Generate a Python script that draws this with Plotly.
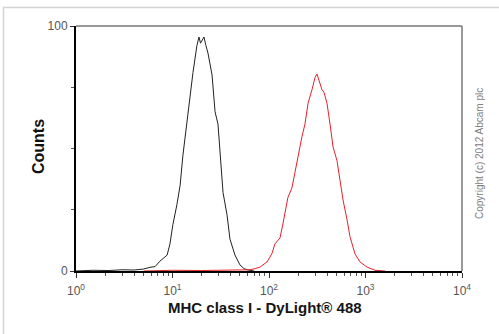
import plotly.graph_objects as go

# Data (fluorescence intensity vs. counts)
black_x = [1.0, 1.5, 2.2, 3.0, 4.0, 5.0, 5.85, 6.6, 7.4, 8.0, 8.8, 9.4, 10.1, 11.1, 12.0, 12.8,
           14.1, 15.2, 16.3, 17.9, 18.8, 19.5, 20.2, 21.2, 22.2, 23.3, 25.7, 27.6, 29.6, 31.1,
           33.4, 36.7, 39.4, 44.4, 50.0, 55.0, 59.2, 70.0]
black_y = [0, 0.3, 0.2, 0.5, 0.4, 0.8, 1.5, 1.8, 4, 5, 6.5, 11, 19, 27, 35, 47,
           61, 71, 81, 92, 95.5, 93, 94, 95.5, 92, 89, 80, 65, 60, 49,
           32, 23, 13, 6.5, 2.5, 1, 0.5, 0]

red_x = [5, 10, 20, 40, 55, 63.6, 72, 80.7, 95.3, 107, 115, 130, 140, 157, 173, 195, 220, 236,
         254, 279, 300, 314, 330, 354, 371, 399, 429, 461, 507, 544, 585, 643, 691, 778, 877,
         1037, 1254, 1600]
red_y = [0, 0.3, 0.2, 0.4, 0.3, 0.5, 1, 1.6, 3.7, 7, 11, 13.5, 19.6, 30, 34, 45, 55, 60,
         68.5, 74, 79, 80.4, 78, 74, 73, 68.5, 60, 50.6, 45, 36, 29, 21, 14, 7, 3.7,
         1.6, 0.3, 0]

x_tickvals = [1, 10, 100, 1000, 10000]
x_ticktext = ["10<sup>0</sup>", "10<sup>1</sup>", "10<sup>2</sup>", "10<sup>3</sup>", "10<sup>4</sup>"]
x_minor = [m * d for d in [1, 10, 100, 1000] for m in range(2, 10)]
y_tickvals = [0, 100]
y_minor = [25, 50, 75]

FONT = "Liberation Sans, Arial, sans-serif"

fig = go.Figure()
fig.add_trace(go.Scatter(x=black_x, y=black_y, mode="lines",
                         line=dict(color="#222222", width=1), showlegend=False))
fig.add_trace(go.Scatter(x=red_x, y=red_y, mode="lines",
                         line=dict(color="#e8202a", width=1), showlegend=False))

L, R, T, B = 76, 37, 26, 63
W, H = 499, 334
pw, ph = W - L - R, H - T - B

def px(x):
    return (x - L) / pw

def py(y):
    return (H - B - y) / ph

fig.update_layout(
    width=W, height=H,
    margin=dict(l=L, r=R, t=T, b=B),
    paper_bgcolor="white", plot_bgcolor="white",
    font=dict(family=FONT, color="#444444", size=12),
    xaxis=dict(type="log", range=[0, 4], tickvals=x_tickvals, ticktext=x_ticktext,
               showgrid=False, zeroline=False, showline=True, linecolor="black", linewidth=2,
               ticks="outside", ticklen=5, tickcolor="#333333", tickwidth=1,
               ticklabelstandoff=3,
               tickfont=dict(size=12, color="#555555"),
               minor=dict(tickvals=x_minor, ticks="outside", ticklen=3, tickcolor="#555555")),
    yaxis=dict(range=[0, 100], tickvals=y_tickvals, showgrid=False, zeroline=False,
               showline=True, linecolor="black", linewidth=2,
               ticks="outside", ticklen=4, tickcolor="#333333",
               tickfont=dict(size=12, color="#555555"),
               minor=dict(tickvals=y_minor, ticks="outside", ticklen=3, tickcolor="#555555")),
    shapes=[
        dict(type="line", xref="paper", yref="paper", x0=0, x1=1, y0=1, y1=1,
             line=dict(color="#777777", width=1.5)),
        dict(type="line", xref="paper", yref="paper", x0=1, x1=1, y0=0, y1=1,
             line=dict(color="#777777", width=1.5)),
        dict(type="rect", xref="paper", yref="paper", x0=px(3.5), x1=px(510), y0=py(7.5), y1=py(345),
             line=dict(color="#d4d4d4", width=1.5), layer="above"),
    ],
    annotations=[
        dict(text="<b>MHC class I - DyLight® 488</b>", xref="paper", yref="paper",
             x=px(265), y=py(307), xanchor="center", yanchor="middle", showarrow=False,
             font=dict(size=15, color="#151515")),
        dict(text="<b>Counts</b>", xref="paper", yref="paper", textangle=-90,
             x=px(38), y=py(147), xanchor="center", yanchor="middle", showarrow=False,
             font=dict(size=16, color="#111111")),
        dict(text="Copyright (c) 2012 Abcam plc", xref="paper", yref="paper", textangle=-90,
             x=px(479), y=py(154), xanchor="center", yanchor="middle", showarrow=False,
             font=dict(size=10, color="#808080")),
    ],
)

fig.write_html("out.html", config={"displayModeBar": False},
               post_script="document.body.style.margin='0';document.body.style.overflow='hidden';")
